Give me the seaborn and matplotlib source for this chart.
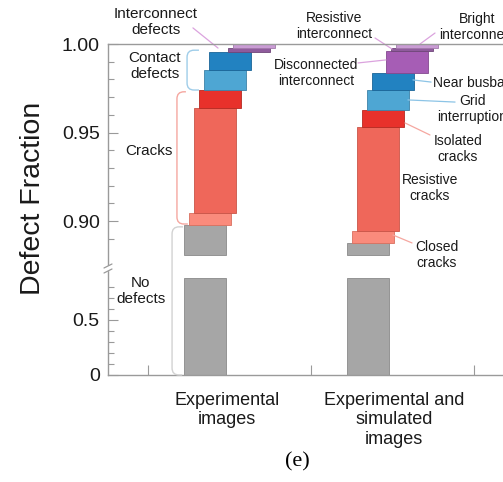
import numpy as np
import matplotlib
matplotlib.use('Agg')
import matplotlib.pyplot as plt
from matplotlib.path import Path
from matplotlib.patches import PathPatch, Rectangle
from matplotlib.lines import Line2D
import seaborn as sns

# data: defect fractions per dataset, stacked bottom -> top
defect_types = ['No defects', 'Closed cracks', 'Resistive cracks', 'Isolated cracks',
                'Grid interruption', 'Near busbar', 'Disconnected interconnect',
                'Resistive interconnect', 'Bright interconnect']
datasets = ['Experimental\nimages', 'Experimental and\nsimulated\nimages']
frac_experimental = [0.8977, 0.0068, 0.0593, 0.0102, 0.0113, 0.0102, 0.0, 0.0022, 0.0023]
frac_combined = [0.8876, 0.0068, 0.0587, 0.0096, 0.0113, 0.0096, 0.0124, 0.0020, 0.0020]

# styling / layout
seg_colors = ['#a6a6a6', '#fa8b7c', '#ef675a', '#e8312b', '#4ea6d3',
              '#2282c1', '#a65db5', '#8f5b9c', '#c99bd4']
seg_edges = ['#8a8a8a', '#d9705f', '#c95548', '#b52a22', '#3d82a8',
             '#1a6598', '#84498f', '#6f4679', '#a27aab']
step = [0, .031, .061, .092, .123, .153, .239, .27, .30]   # staircase shift
bar_w = 0.258
cut_lo, cut_hi = 0.88, 0.881

sns.set_theme(style='ticks')
plt.rcParams['font.family'] = ['Liberation Sans', 'DejaVu Sans']
plt.rcParams['axes.edgecolor'] = '#9a9a9a'
plt.rcParams['axes.linewidth'] = 1.0
txt_c = '#1a1a1a'

fig = plt.figure(figsize=(5.03, 4.82), dpi=100)
ax_up = fig.add_axes([0.2147, 0.4440, 0.841, 0.4647])
ax_lo = fig.add_axes([0.2147, 0.2220, 0.841, 0.2220])

for i, fr in enumerate([frac_experimental, frac_combined]):
    tops = np.cumsum(fr)
    bots = tops - np.array(fr)
    for k, h in enumerate(fr):
        if h <= 0:
            continue
        x = i + step[k]
        if k == 0:
            ax_lo.bar(x, cut_lo, bottom=0, width=bar_w, color=seg_colors[k],
                      edgecolor=seg_edges[k], linewidth=0.6)
            ax_up.bar(x, tops[k] - cut_hi, bottom=cut_hi, width=bar_w,
                      color=seg_colors[k], edgecolor=seg_edges[k], linewidth=0.6)
        else:
            ax_up.bar(x, h, bottom=bots[k], width=bar_w, color=seg_colors[k],
                      edgecolor=seg_edges[k], linewidth=0.6)

for ax in (ax_up, ax_lo):
    ax.set_xlim(-0.595, 2.0)
    ax.tick_params(axis='y', which='both', direction='in', colors='#9a9a9a',
                   labelcolor=txt_c, labelsize=14, pad=6)
    ax.tick_params(axis='y', which='major', length=7, width=0.8)
    ax.tick_params(axis='y', which='minor', length=4, width=0.8)

ax_up.set_ylim(0.87345, 1.0)
ax_up.set_yticks([0.90, 0.95, 1.00], ['0.90', '0.95', '1.00'])
ax_up.set_yticks(np.arange(0.89, 0.995, 0.01), minor=True)
ax_up.tick_params(axis='x', which='both', bottom=False, labelbottom=False)
ax_up.spines['bottom'].set_visible(False)
ax_up.spines['right'].set_visible(False)

ax_lo.set_ylim(0, 0.9727)
ax_lo.set_yticks([0, 0.5], ['0', '0.5'])
ax_lo.set_yticks([0.1, 0.2, 0.3, 0.4, 0.6, 0.7, 0.8], minor=True)
ax_lo.spines['top'].set_visible(False)
ax_lo.spines['right'].set_visible(False)
ax_lo.set_xticks([-0.35, 0.65, 1.65], ['', '', ''])
ax_lo.set_xticks([0.135, 1.16], datasets, minor=True)
ax_lo.tick_params(axis='x', which='major', direction='in', length=7, width=0.8,
                  colors='#9a9a9a')
ax_lo.tick_params(axis='x', which='minor', length=0, pad=12, labelsize=13,
                  labelcolor=txt_c)

# axis break mark
bx, by = ax_lo.transAxes.transform((0, 1))
inv = fig.transFigure.inverted()
def fpt(dx, dy):
    return inv.transform((bx + dx, by + dy))
p0 = fpt(-3, -2)
p1 = fpt(3, 2)
fig.add_artist(Rectangle(p0, p1[0] - p0[0], p1[1] - p0[1], color='white',
                         transform=fig.transFigure, zorder=5))
for off in (-3, 2):
    a, b = fpt(-4, off - 2), fpt(4, off + 2)
    fig.add_artist(Line2D([a[0], b[0]], [a[1], b[1]], color='#9a9a9a', lw=0.9,
                          transform=fig.transFigure, zorder=6))


def bracket(ax_a, y_a, ax_b, y_b, x0, x1a, x1b, color, r=7):
    xa, ya = ax_a.transData.transform((x0, y_a))
    ea, _ = ax_a.transData.transform((x1a, y_a))
    xb, yb = ax_b.transData.transform((x0, y_b))
    eb, _ = ax_b.transData.transform((x1b, y_b))
    verts = [(ea, ya), (xa + r, ya), (xa, ya), (xa, ya - r),
             (xb, yb + r), (xb, yb), (xb + r, yb), (eb, yb)]
    codes = [Path.MOVETO, Path.LINETO, Path.CURVE3, Path.CURVE3,
             Path.LINETO, Path.CURVE3, Path.CURVE3, Path.LINETO]
    fig.add_artist(PathPatch(Path(inv.transform(verts), codes), fill=False,
                             edgecolor=color, lw=1.0, transform=fig.transFigure))


top1 = np.cumsum(frac_experimental)
bracket(ax_up, top1[5] + 0.001, ax_up, top1[3], -0.11, -0.037, -0.037, '#9fcde9')
bracket(ax_up, top1[3] - 0.001, ax_up, top1[0] + 0.0006, -0.172, -0.117, -0.105, '#f5a7a0')
bracket(ax_up, top1[0] - 0.001, ax_lo, 0, -0.202, -0.135, -0.14, '#d2d2d2')


def label(ax, x, y, s, size=10, ha='center'):
    ax.text(x, y, s, ha=ha, va='center', fontsize=size, color=txt_c,
            linespacing=1.15, clip_on=False)


def leader(x0, y0, x1, y1, color):
    ax_up.plot([x0, x1], [y0, y1], color=color, lw=0.9, clip_on=False)


# left-hand group labels
label(ax_up, -0.30, 1.0125, 'Interconnect\ndefects', 11)
leader(-0.074, 1.0091, 0.08, 0.9977, '#dba3de')
label(ax_up, -0.307, 0.9876, 'Contact\ndefects', 11)
label(ax_up, -0.344, 0.9395, 'Cracks', 11)
label(ax_lo, -0.393, 0.764, 'No\ndefects', 11)

# right-hand detailed labels
label(ax_up, 0.791, 1.0102, 'Resistive\ninterconnect')
leader(1.043, 1.0034, 1.147, 0.9972, '#dba3de')
label(ax_up, 1.669, 1.0096, 'Bright\ninterconnect')
leader(1.411, 1.0062, 1.319, 1.0, '#dba3de')
label(ax_up, 0.681, 0.9836, 'Disconnected\ninterconnect')
leader(0.939, 0.9893, 1.11, 0.991, '#dba3de')
label(ax_up, 1.399, 0.978, 'Near busbar', ha='left')
leader(1.276, 0.9797, 1.387, 0.9785, '#8cc4e6')
label(ax_up, 1.638, 0.9633, 'Grid\ninterruption')
leader(1.245, 0.9684, 1.534, 0.9672, '#8cc4e6')
label(ax_up, 1.552, 0.9407, 'Isolated\ncracks')
leader(1.227, 0.9554, 1.380, 0.9486, '#f5a7a0')
label(ax_up, 1.380, 0.9186, 'Resistive\ncracks')
label(ax_up, 1.423, 0.8808, 'Closed\ncracks')
leader(1.153, 0.8921, 1.270, 0.8876, '#f5a7a0')

fig.text(33 / 503, 1 - 198 / 482, 'Defect Fraction', rotation=90, ha='center',
         va='center', fontsize=20.5, color=txt_c)
fig.text(297 / 503, 1 - 462 / 482, '(e)', ha='center', va='center', fontsize=16,
         family=['Liberation Serif', 'DejaVu Serif'], color='black')

fig.savefig('out.png', dpi=100)
